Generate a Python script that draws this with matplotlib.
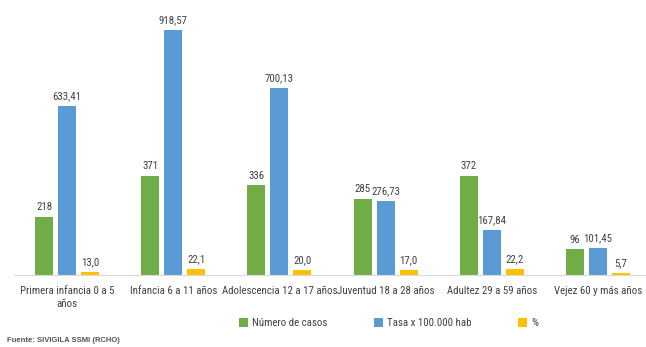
import matplotlib.pyplot as plt
from matplotlib import font_manager
import numpy as np

grupos = ["Primera infancia 0 a 5\naños", "Infancia 6 a 11 años", "Adolescencia 12 a 17 años",
          "Juventud 18 a 28 años", "Adultez 29 a 59 años", "Vejez 60 y más años"]
casos = [218, 371, 336, 285, 372, 96]
tasa = [633.41, 918.57, 700.13, 276.73, 167.84, 101.45]
porc = [13.0, 22.1, 20.0, 17.0, 22.2, 5.7]

# narrow font if any, otherwise a smaller Liberation Sans
nombres = {f.name for f in font_manager.fontManager.ttflist}
fs = 7
fuente = 'Liberation Sans'
for cand in ['Liberation Sans Narrow', 'Roboto Condensed', 'Open Sans Condensed', 'DejaVu Sans Condensed']:
    if cand in nombres:
        fuente, fs = cand, 7.8
        break
plt.rcParams['font.family'] = [fuente, 'DejaVu Sans']

fig = plt.figure(figsize=(6.46, 3.47), dpi=100)
ax = fig.add_axes([14/646, (347-275)/347, (651-14)/646, 266.7/347])

x = np.arange(len(grupos))
w = 0.17
d = 0.217
series = [(casos, "#70AD47", "Número de casos", lambda v: f"{v:d}"),
          (tasa, "#5B9BD5", "Tasa x 100.000 hab", lambda v: f"{v:.2f}".replace(".", ",")),
          (porc, "#FFC000", "%", lambda v: f"{v:.1f}".replace(".", ","))]
for i, (vals, col, lab, fmt) in enumerate(series):
    bars = ax.bar(x + (i - 1) * d, vals, w, color=col, label=lab)
    for b, v in zip(bars, vals):
        ax.text(b.get_x() + b.get_width() / 2, v + 18, fmt(v), ha='center', va='bottom',
                fontsize=fs, color='#404040')

ax.set_xlim(-0.5, 5.5)
ax.set_ylim(0, 1000)
ax.set_yticks([])
ax.set_xticks(x)
ax.set_xticklabels(grupos, fontsize=fs, color='#404040', linespacing=1.35)
ax.tick_params(axis='x', length=0, pad=8)
for s in ['top', 'right', 'left']:
    ax.spines[s].set_visible(False)
ax.spines['bottom'].set_color('#d9d9d9')

fig.legend(loc='center', bbox_to_anchor=(0.602, 0.068), ncol=3, frameon=False, fontsize=fs,
           handlelength=0.8, handleheight=0.8, handletextpad=0.4, columnspacing=4.3,
           labelcolor='#404040')
fig.text(7/646, 1 - 341/347, "Fuente: SIVIGILA SSMI (RCHO)", fontsize=5.5, fontweight='bold',
         color='#555555', va='center', family=['Liberation Sans', 'DejaVu Sans'])

fig.savefig("out.png", dpi=100)
